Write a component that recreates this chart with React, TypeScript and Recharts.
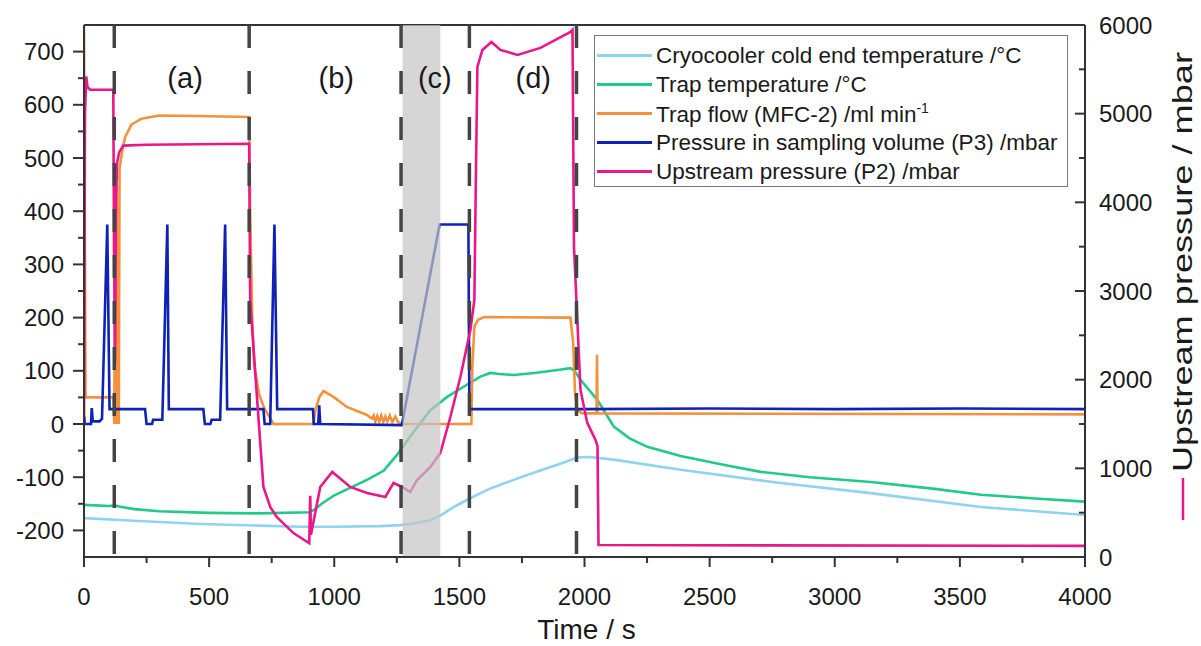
import React from "react"
import {
  Legend,
  Line,
  LineChart,
  ReferenceArea,
  ReferenceDot,
  ReferenceLine,
  XAxis,
  YAxis,
} from "recharts"

// [time s, value] pairs
const cryoTemp = [
  [0, -177], [200, -182], [464, -188], [700, -191], [864, -193], [1000, -193], [1184, -192],
  [1264, -190], [1317, -187], [1384, -181], [1424, -172], [1470, -158], [1537, -141],
  [1620, -122], [1717, -105], [1800, -91], [1900, -75], [1972, -63], [2020, -62], [2117, -67],
  [2384, -86], [2784, -111], [3144, -130], [3584, -156], [4000, -171],
]

const trapTemp = [
  [0, -152], [100, -154], [125, -153], [140, -155], [200, -160], [300, -164], [500, -167],
  [700, -168], [900, -166], [917, -162], [950, -150], [1000, -134], [1131, -105], [1197, -88],
  [1251, -58], [1317, -15], [1384, 26], [1451, 51], [1517, 70], [1584, 89], [1624, 96],
  [1660, 94], [1717, 92], [1800, 96], [1900, 102], [1944, 105], [1960, 100], [1984, 83],
  [2052, 45], [2117, -5], [2180, -27], [2251, -43], [2384, -60], [2550, -76], [2704, -90],
  [2900, -100], [3144, -109], [3400, -122], [3584, -133], [3800, -140], [4000, -146],
]

const trapFlow = [
  [0, 750], [6, 50], [116, 50], [118, 50], [121, 0], [124, 300], [127, 0], [130, 450], [133, 0],
  [136, 200], [139, 0], [142, 480], [155, 520], [165, 540], [190, 563], [230, 574], [300, 580],
  [450, 579], [660, 577], [664, 400], [672, 200], [680, 110], [700, 55], [720, 30], [745, 10],
  [757, 0], [917, 0], [925, 26], [940, 50], [957, 62], [997, 51], [1050, 32], [1131, 17],
  [1150, 10], [1158, 16], [1164, 4], [1172, 15], [1180, 5], [1188, 16], [1196, 4], [1204, 14],
  [1212, 5], [1222, 16], [1232, 4], [1244, 14], [1256, 3], [1270, 0], [1548, 0], [1552, 110],
  [1560, 183], [1575, 196], [1600, 201], [1944, 200], [1955, 150], [1962, 60], [1971, 26],
  [1990, 20], [2048, 20], [2050, 130], [2052, 20], [4000, 18],
]

const p3Pressure = [
  [0, 15], [4, 0], [28, 0], [31, 30], [35, 5], [62, 5], [72, 10], [93, 375], [102, 28], [244, 28],
  [250, 0], [272, 0], [276, 8], [313, 8], [333, 375], [339, 28], [477, 28], [483, 0], [505, 0],
  [510, 8], [544, 8], [564, 375], [572, 28], [717, 28], [722, 0], [744, 0], [761, 375], [772, 28],
  [915, 28], [918, 0], [936, 0], [940, 35], [944, 0], [1270, -2], [1421, 375], [1536, 375],
  [1540, 28], [2000, 28], [2500, 29], [3000, 28], [3500, 29], [4000, 28],
]

// upstream pressure, right axis (mbar)
const p2Pressure = [
  [0, 1500], [4, 5000], [9, 5420], [14, 5300], [25, 5270], [117, 5270], [120, 3500], [124, 2200],
  [128, 3990], [132, 4440], [140, 4560], [157, 4640], [250, 4650], [660, 4660], [664, 2900],
  [692, 1770], [717, 790], [745, 560], [771, 450], [837, 270], [900, 155], [904, 690], [907, 250],
  [944, 790], [992, 960], [1064, 790], [1131, 722], [1204, 677], [1237, 835], [1271, 790],
  [1304, 733], [1331, 869], [1384, 1015], [1424, 1173], [1464, 1579], [1504, 2030], [1544, 2560],
  [1560, 2900], [1566, 4300], [1572, 5527], [1592, 5719], [1628, 5809], [1664, 5719],
  [1732, 5663], [1824, 5742], [1944, 5922], [1952, 5945], [1958, 3500], [1984, 1884],
  [2011, 1512], [2044, 1320], [2052, 1250], [2056, 135], [4000, 125],
]

const phaseLines = [121, 660, 1267, 1540, 1968]
const valveBand = [1273, 1424]
const phaseLabels = [
  { text: "(a)", t: 404 },
  { text: "(b)", t: 1008 },
  { text: "(c)", t: 1402 },
  { text: "(d)", t: 1795 },
]

const xTicks = [0, 250, 500, 750, 1000, 1250, 1500, 1750, 2000, 2250, 2500, 2750, 3000, 3250, 3500, 3750, 4000]
const leftTicks = [-200, -150, -100, -50, 0, 50, 100, 150, 200, 250, 300, 350, 400, 450, 500, 550, 600, 650, 700]
const rightTicks = [0, 500, 1000, 1500, 2000, 2500, 3000, 3500, 4000, 4500, 5000, 5500, 6000]

const series = [
  { key: "cryo", name: "Cryocooler cold end temperature /°C", color: "#8ed3f2", rows: cryoTemp, axis: "left" },
  { key: "trapT", name: "Trap temperature /°C", color: "#1fcb86", rows: trapTemp, axis: "left" },
  { key: "flow", name: "Trap flow (MFC-2) /ml min", color: "#f6913b", rows: trapFlow, axis: "left" },
  { key: "p3", name: "Pressure in sampling volume (P3) /mbar", color: "#0e22b6", rows: p3Pressure, axis: "left" },
  { key: "p2", name: "Upstream pressure (P2) /mbar", color: "#ea178b", rows: p2Pressure, axis: "right" },
]

const font = "'Liberation Sans', Arial, sans-serif"
const ink = "#1a1a1a"
const axisColor = "#333"

function BottomTick({ x, y, payload }: any) {
  const major = payload.value % 500 === 0
  return (
    <g>
      <line x1={x} x2={x} y1={y} y2={y + (major ? 10 : 6)} stroke={axisColor} strokeWidth={2} />
      {major && (
        <text x={x} y={y + 48} textAnchor="middle" fontSize={24} fill={ink} fontFamily={font}>
          {payload.value}
        </text>
      )}
    </g>
  )
}

function LeftTick({ x, y, payload }: any) {
  const major = payload.value % 100 === 0
  return (
    <g>
      <line x1={x - (major ? 11 : 6)} x2={x} y1={y} y2={y} stroke={axisColor} strokeWidth={2} />
      {major && (
        <text x={x - 20} y={y} dy="0.36em" textAnchor="end" fontSize={24} fill={ink} fontFamily={font}>
          {payload.value}
        </text>
      )}
    </g>
  )
}

function RightTick({ x, y, payload }: any) {
  const major = payload.value % 1000 === 0
  return (
    <g>
      <line x1={x - (major ? 10 : 6)} x2={x} y1={y} y2={y} stroke={axisColor} strokeWidth={2} />
      {major && (
        <text x={x + 14} y={y} dy="0.36em" textAnchor="start" fontSize={24} fill={ink} fontFamily={font}>
          {payload.value}
        </text>
      )}
    </g>
  )
}

function LegendBox() {
  return (
    <div
      style={{
        boxSizing: "border-box",
        width: 474,
        height: 152,
        border: "1.5px solid #777",
        background: "#fff",
        padding: "5px 0 0 2px",
        fontFamily: font,
        fontSize: 22.5,
        color: ink,
      }}
    >
      {series.map((s) => (
        <div key={s.key} style={{ display: "flex", alignItems: "center", height: 29, whiteSpace: "nowrap" }}>
          <span style={{ display: "inline-block", width: 55, height: 2.5, background: s.color, marginRight: 4 }} />
          <span>
            {s.name}
            {s.key === "flow" && <sup style={{ fontSize: 14 }}>-1</sup>}
          </span>
        </div>
      ))}
    </div>
  )
}

export default function App() {
  return (
    <div style={{ position: "absolute", left: 0, top: 0, background: "#fff", fontFamily: font }}>
      <LineChart width={1201} height={646} margin={{ top: 25, right: 0, bottom: 0, left: 0 }}>
        <XAxis
          xAxisId="x"
          dataKey="t"
          type="number"
          domain={[0, 4000]}
          ticks={xTicks}
          interval={0}
          tickSize={0}
          tickMargin={0}
          tickLine={false}
          tick={BottomTick}
          height={89}
          axisLine={{ stroke: axisColor, strokeWidth: 2 }}
          allowDataOverflow
          label={{
            content: ({ viewBox }: any) => (
              <text
                x={viewBox.x + viewBox.width / 2 + 2}
                y={viewBox.y + 82}
                textAnchor="middle"
                fontSize={28}
                fill={ink}
                fontFamily={font}
              >
                Time / s
              </text>
            ),
          }}
        />
        <YAxis
          yAxisId="left"
          type="number"
          domain={[-250, 750]}
          ticks={leftTicks}
          interval={0}
          tickSize={0}
          tickMargin={0}
          tickLine={false}
          tick={LeftTick}
          width={84}
          axisLine={{ stroke: axisColor, strokeWidth: 2 }}
          allowDataOverflow
        />
        <YAxis
          yAxisId="right"
          orientation="right"
          type="number"
          domain={[0, 6000]}
          ticks={rightTicks}
          interval={0}
          tickSize={0}
          tickMargin={0}
          tickLine={false}
          tick={RightTick}
          width={116}
          axisLine={{ stroke: axisColor, strokeWidth: 2 }}
          allowDataOverflow
          label={{
            content: ({ viewBox }: any) => {
              const cx = viewBox.x + 97
              const cy = viewBox.y + viewBox.height / 2 - 29
              return (
                <g>
                  <text
                    x={cx}
                    y={cy}
                    dy="0.36em"
                    textAnchor="middle"
                    fontSize={27}
                    fill={ink}
                    fontFamily={font}
                    textLength={420}
                    lengthAdjust="spacingAndGlyphs"
                    transform={`rotate(-90, ${cx}, ${cy})`}
                  >
                    Upstream pressure / mbar
                  </text>
                  <line x1={cx + 1} x2={cx + 1} y1={cy + 216} y2={cy + 258} stroke="#ea178b" strokeWidth={2.5} />
                </g>
              )
            },
          }}
        />

        <ReferenceLine xAxisId="x" yAxisId="left" y={750} stroke={axisColor} strokeWidth={2} />

        {series.map((s) => (
          <Line
            key={s.key}
            xAxisId="x"
            yAxisId={s.axis}
            data={s.rows.map(([t, v]) => ({ t, v }))}
            dataKey="v"
            name={s.name}
            type="linear"
            stroke={s.color}
            strokeWidth={2.6}
            dot={false}
            activeDot={false}
            isAnimationActive={false}
          />
        ))}

        <ReferenceArea
          xAxisId="x"
          yAxisId="left"
          x1={valveBand[0]}
          x2={valveBand[1]}
          fill="#c4c4c4"
          fillOpacity={0.7}
          stroke="none"
          zIndex={450}
        />

        {phaseLines.map((t) => (
          <ReferenceLine
            key={t}
            xAxisId="x"
            yAxisId="left"
            x={t}
            stroke="#444"
            strokeWidth={3.5}
            strokeDasharray="23 23"
            strokeDashoffset={-3}
            zIndex={460}
          />
        ))}

        {phaseLabels.map((p) => (
          <ReferenceDot
            key={p.text}
            xAxisId="x"
            yAxisId="left"
            x={p.t}
            y={650}
            r={0}
            fill="none"
            stroke="none"
            zIndex={470}
            label={{ value: p.text, position: "center", fontSize: 29, fill: ink, fontFamily: font }}
          />
        ))}

        <Legend
          layout="vertical"
          align="center"
          verticalAlign="middle"
          wrapperStyle={{ left: 594, top: 35, width: 474, height: 152 }}
          content={() => <LegendBox />}
        />
      </LineChart>
    </div>
  )
}
